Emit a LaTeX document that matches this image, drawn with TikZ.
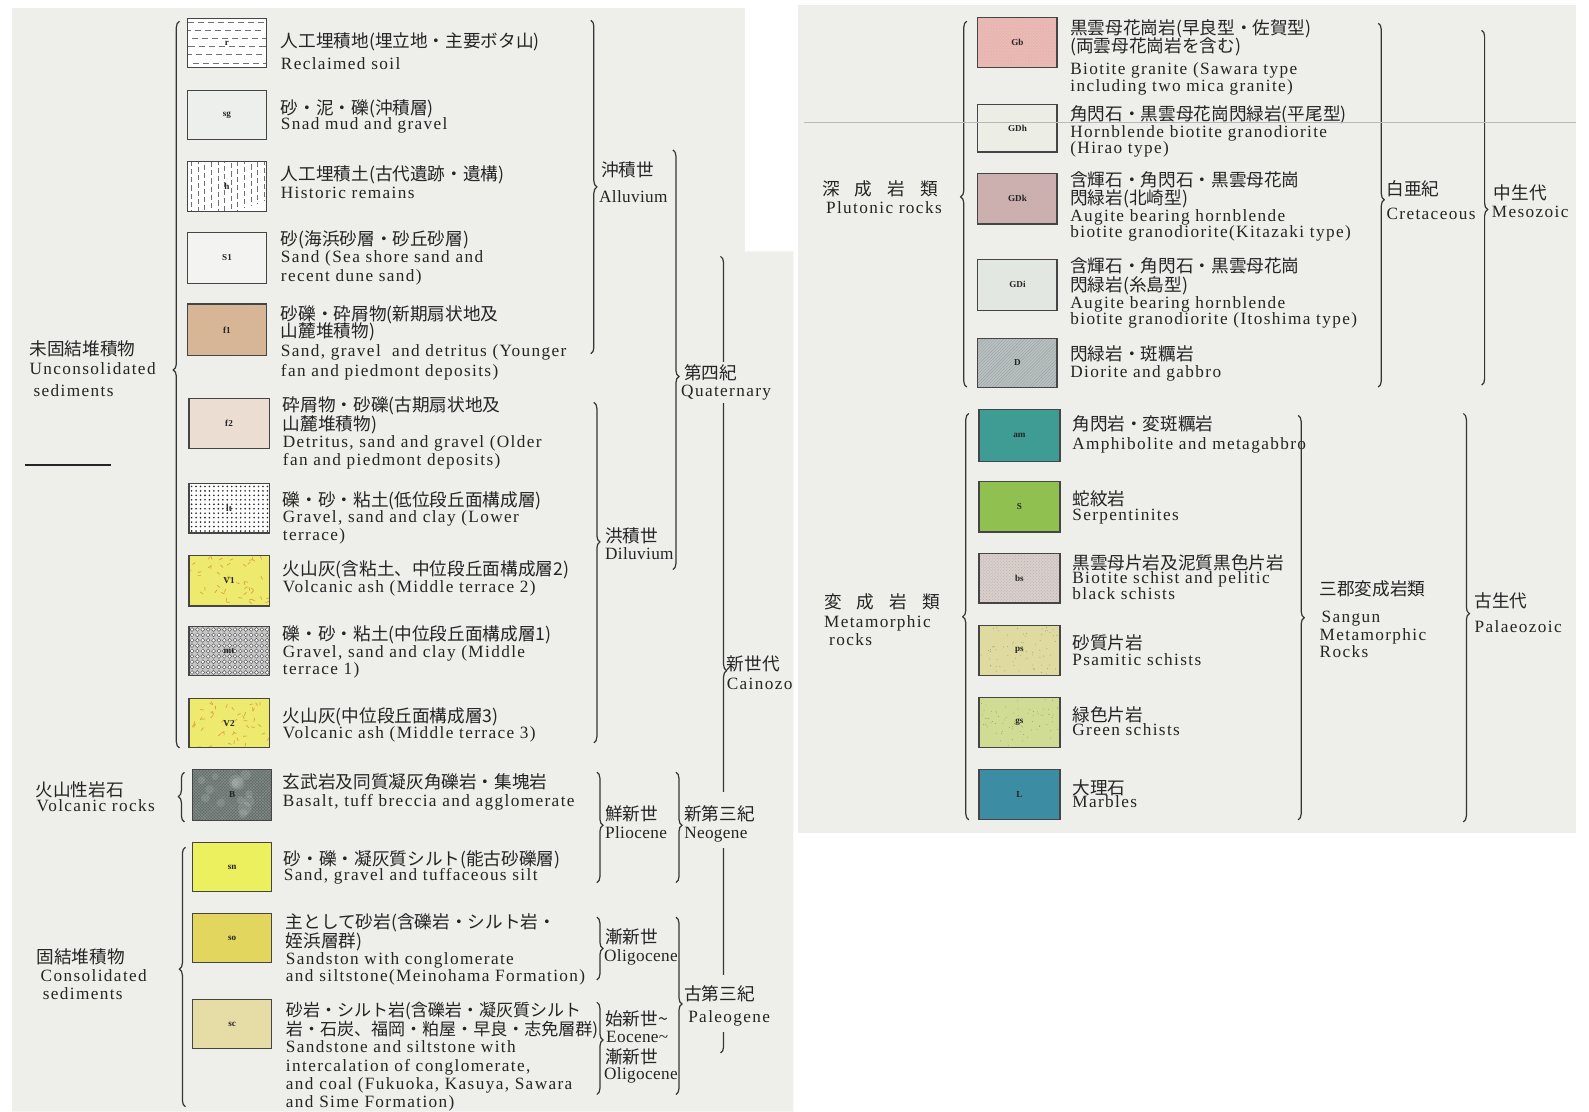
\documentclass[tikz,border=0pt]{standalone}
\usepackage{fontspec}
\setmainfont{Liberation Serif}
\newfontfamily\jpf{Noto Sans CJK JP}
\newfontfamily\enf[LetterSpace=8.0]{Liberation Serif}
\newfontfamily\enn[LetterSpace=2.0]{Liberation Serif}
\usetikzlibrary{decorations.pathreplacing,patterns,calc}
\definecolor{paper}{HTML}{EEEEEB}
\definecolor{ink}{HTML}{242424}
\definecolor{braceink}{HTML}{353535}
\definecolor{cSg}{HTML}{EDEFEC}
\definecolor{cSone}{HTML}{F3F3F1}
\definecolor{cFone}{HTML}{D6B89A}
\definecolor{cFtwo}{HTML}{EBDDD2}
\definecolor{cV}{HTML}{EEEA6E}
\definecolor{cVd}{HTML}{D9A347}
\definecolor{cB}{HTML}{5C6F68}
\definecolor{cSn}{HTML}{ECEF5E}
\definecolor{cSo}{HTML}{E2D65E}
\definecolor{cSc}{HTML}{E6DCA6}
\definecolor{cGb}{HTML}{E8B6B2}
\definecolor{cGDh}{HTML}{ECEEE6}
\definecolor{cGDk}{HTML}{CDAFB2}
\definecolor{cGDi}{HTML}{E3E7E2}
\definecolor{cD}{HTML}{B8C2C2}
\definecolor{cAm}{HTML}{3E9C94}
\definecolor{cS}{HTML}{8FC050}
\definecolor{cBs}{HTML}{DACFCB}
\definecolor{cPs}{HTML}{DEDAA0}
\definecolor{cGs}{HTML}{D0DC94}
\definecolor{cL}{HTML}{3C8CA4}
\tikzset{
  en/.style={font=\enf\fontsize{17}{19}\selectfont, text=ink, anchor=west, inner sep=0pt, text height=12pt, text depth=3.5pt},
  ent/.style={en, font=\enn\fontsize{17}{19}\selectfont},
  jp/.style={font=\jpf\fontsize{17.4}{19}\selectfont, text=ink, anchor=west, inner sep=0pt, text height=13pt, text depth=2pt},
  jpt/.style={jp, font=\jpf\fontsize{16.8}{19}\selectfont},
  swbox/.style={draw=ink!85, line width=1.1pt, inner sep=0pt, font=\fontsize{9}{9}\selectfont\bfseries, text=ink},
  brc/.style={decorate, decoration={brace, amplitude=6pt, aspect=#1}, draw=braceink, line width=1.2pt},
  texr/.style={path picture={
    \foreach \j in {0,...,5}{
      \draw[ink!65, line width=0.6pt, dash pattern=on 6pt off 4pt]
        ($(path picture bounding box.north west)+({-\j*3},{4+\j*8})$) -- +(95,0);}}},
  texh/.style={path picture={
    \foreach \i in {0,...,11}{
      \draw[ink!65, line width=0.6pt, dash pattern=on 5pt off 3pt]
        ($(path picture bounding box.north west)+({4+\i*6.5},{-\i*2.3})$) -- +(0,65);}}},
  texlt/.style={path picture={
    \foreach \i in {0,...,17}{\foreach \j in {0,...,10}{
      \fill[ink] ($(path picture bounding box.north west)+({2.6+\i*4.4},{3+\j*4.4})$) circle (0.9pt);}}}},
  texmt/.style={path picture={
    \foreach \i in {0,...,14}{\foreach \j in {0,...,8}{
      \filldraw[fill=white, draw=ink!75, line width=0.5pt]
        ($(path picture bounding box.north west)+({3+\i*5.3},{3.2+\j*5.3})$) circle (1.9pt);}}}},
  texv/.style={path picture={
    \pgfmathsetseed{#1}
    \foreach \k in {1,...,45}{
      \pgfmathsetmacro\px{2+76*rnd}\pgfmathsetmacro\py{2+46*rnd}\pgfmathsetmacro\pa{360*rnd}
      \draw[cVd, line width=0.7pt]
        ($(path picture bounding box.north west)+(\px,\py)$) -- +(\pa:3.5);}}},
  texb/.style={path picture={
    \pgfmathsetseed{11}
    \foreach \k in {1,...,14}{
      \pgfmathsetmacro\px{4+70*rnd}\pgfmathsetmacro\py{4+42*rnd}\pgfmathsetmacro\pr{3+4*rnd}
      \fill[white, opacity=0.12]
        ($(path picture bounding box.north west)+(\px,\py)$) circle (\pr pt);}}},
  texspk/.style={path picture={
    \pgfmathsetseed{#1}
    \foreach \k in {1,...,70}{
      \pgfmathsetmacro\px{2+76*rnd}\pgfmathsetmacro\py{2+46*rnd}
      \fill[olive!70!black, opacity=0.45]
        ($(path picture bounding box.north west)+(\px,\py)$) circle (0.5pt);}}},
}
\newcommand\swatch[7]{\node[swbox,#6,minimum width=#4pt,minimum height=#5pt] (#1) at (#2,#3) {#7};}
\begin{document}
\begin{tikzpicture}[x=1pt,y=-1pt]
\useasboundingbox (0,0) rectangle (1568,1097);
\fill[white] (0,0) rectangle (1568,1097);
\fill[paper] (12,8) -- (735,8) -- (735,248) -- (783,248) -- (783,1097) -- (12,1097) -- cycle;
\fill[paper] (787,5) rectangle (1555,822);
\draw[ink, line width=1.8pt] (25,459) -- (110,459);

% ---------- left column swatches ----------
\swatch{sw-r}{224}{42.5}{78}{49}{fill=white,texr}{r}
\swatch{sw-sg}{224}{113.5}{78}{49}{fill=cSg}{sg}
\swatch{sw-h}{224}{184}{78}{50}{fill=white,texh}{h}
\swatch{sw-S1}{224}{254.5}{78}{51}{fill=cSone}{S1}
\swatch{sw-f1}{224}{325.5}{78}{51}{preaction={fill=cFone},pattern=north east lines,pattern color=brown!60}{f1}
\swatch{sw-f2}{226}{418}{79}{50}{fill=cFtwo}{f2}
\swatch{sw-lt}{226}{501.5}{79}{49}{fill=white,texlt}{lt}
\swatch{sw-V1}{226}{573}{79}{50}{fill=cV,texv=3}{V1}
\swatch{sw-mt}{226}{642.5}{79}{49}{fill=gray!45,texmt}{mt}
\swatch{sw-V2}{226}{713.5}{79}{49}{fill=cV,texv=5}{V2}
\swatch{sw-B}{229}{784.5}{78}{51}{preaction={fill=cB},pattern=crosshatch,pattern color=black!45,texb}{B}
\swatch{sw-sn}{229}{855.5}{78}{49}{fill=cSn}{sn}
\swatch{sw-so}{229}{925.5}{78}{49}{fill=cSo}{so}
\swatch{sw-sc}{229}{1010.5}{78}{49}{fill=cSc}{sc}

% ---------- left column texts ----------
\node[jp] (t-r1) at (277,41) {人工埋積地(埋立地・主要ボタ山)};
\node[en] (t-r2) at (277,64) {Reclaimed soil};
\node[jp] (t-sg1) at (277,107) {砂・泥・礫(沖積層)};
\node[en] (t-sg2) at (277,124) {Snad mud and gravel};
\node[jp] (t-h1) at (277,173) {人工埋積土(古代遺跡・遺構)};
\node[en] (t-h2) at (277,192) {Historic remains};
\node[jp] (t-s1a) at (277,237) {砂(海浜砂層・砂丘砂層)};
\node[en] (t-s1b) at (277,255) {Sand (Sea shore sand and};
\node[en] (t-s1c) at (277,274) {recent dune sand)};
\node[jp] (t-f1a) at (277,311) {砂礫・砕屑物(新期扇状地及};
\node[jp] (t-f1b) at (277,328) {山麓堆積物)};
\node[en] (t-f1c) at (277,348) {Sand, gravel \ and detritus (Younger};
\node[en] (t-f1d) at (277,367) {fan and piedmont deposits)};
\node[jp] (t-f2a) at (279,401) {砕屑物・砂礫(古期扇状地及};
\node[jp] (t-f2b) at (279,419) {山麓堆積物)};
\node[en] (t-f2c) at (279,437) {Detritus, sand and gravel (Older};
\node[en] (t-f2d) at (279,455) {fan and piedmont deposits)};
\node[jp] (t-lt1) at (279,494) {礫・砂・粘土(低位段丘面構成層)};
\node[en] (t-lt2) at (279,511) {Gravel, sand and clay (Lower};
\node[en] (t-lt3) at (279,529) {terrace)};
\node[jp] (t-v1a) at (279,562) {火山灰(含粘土、中位段丘面構成層2)};
\node[en] (t-v1b) at (279,580) {Volcanic ash (Middle terrace 2)};
\node[jp] (t-mt1) at (279,627) {礫・砂・粘土(中位段丘面構成層1)};
\node[en] (t-mt2) at (279,645) {Gravel, sand and clay (Middle};
\node[en] (t-mt3) at (279,661) {terrace 1)};
\node[jp] (t-v2a) at (279,707) {火山灰(中位段丘面構成層3)};
\node[en] (t-v2b) at (279,724) {Volcanic ash (Middle terrace 3)};
\node[jp] (t-b1) at (279,773) {玄武岩及同質凝灰角礫岩・集塊岩};
\node[en] (t-b2) at (279,792) {Basalt, tuff breccia and agglomerate};
\node[jp] (t-sn1) at (280,849) {砂・礫・凝灰質シルト(能古砂礫層)};
\node[en] (t-sn2) at (280,865) {Sand, gravel and tuffaceous silt};
\node[jp] (t-so1) at (282,911) {主として砂岩(含礫岩・シルト岩・};
\node[jp] (t-so2) at (282,929) {姪浜層群)};
\node[en] (t-so3) at (282,947) {Sandston with conglomerate};
\node[en] (t-so4) at (282,964) {and siltstone(Meinohama Formation)};
\node[jpt] (t-sc1) at (282,998) {砂岩・シルト岩(含礫岩・凝灰質シルト};
\node[jpt] (t-sc2) at (282,1016) {岩・石炭、福岡・粕屋・早良・志免層群)};
\node[en] (t-sc3) at (282,1034) {Sandstone and siltstone with};
\node[en] (t-sc4) at (282,1053) {intercalation of conglomerate,};
\node[en] (t-sc5) at (282,1071) {and coal (Fukuoka, Kasuya, Sawara};
\node[en] (t-sc6) at (282,1089) {and Sime Formation)};

% ---------- left group labels ----------
\node[jp] (g-unc1) at (29,345) {未固結堆積物};
\node[en] (g-unc2) at (29,365) {Unconsolidated};
\node[en] (g-unc3) at (33,387) {sediments};
\node[jp] (g-vol1) at (35,780) {火山性岩石};
\node[en] (g-vol2) at (36,797) {Volcanic rocks};
\node[jp] (g-con1) at (36,945) {固結堆積物};
\node[en] (g-con2) at (40,964) {Consolidated};
\node[en] (g-con3) at (42,982) {sediments};

% ---------- left braces ----------
\coordinate (b-unc-t) at (177,21);  \coordinate (b-unc-b) at (177,738);
\coordinate (b-vol-t) at (182,762); \coordinate (b-vol-b) at (182,811);
\coordinate (b-con-t) at (183,836); \coordinate (b-con-b) at (183,1092);
\draw[brc=0.52] (b-unc-b) -- (b-unc-t);
\draw[brc=0.51] (b-vol-b) -- (b-vol-t);
\draw[brc=0.53] (b-con-b) -- (b-con-t);

% ---------- age braces (left sheet) ----------
\coordinate (b-all-t) at (583,20);  \coordinate (b-all-b) at (583,349);
\coordinate (b-dil-t) at (586,397); \coordinate (b-dil-b) at (586,733);
\coordinate (b-qua-t) at (664,148); \coordinate (b-qua-b) at (664,562);
\coordinate (b-cai-t) at (711,253); \coordinate (b-cai-b) at (711,1039);
\coordinate (b-pli-t) at (589,762); \coordinate (b-pli-b) at (589,871);
\coordinate (b-neo-t) at (667,762); \coordinate (b-neo-b) at (667,871);
\coordinate (b-oli-t) at (589,905); \coordinate (b-oli-b) at (589,967);
\coordinate (b-eoc-t) at (589,989); \coordinate (b-eoc-b) at (589,1080);
\coordinate (b-pal-t) at (667,905); \coordinate (b-pal-b) at (667,1080);
\draw[brc=0.50] (b-all-t) -- (b-all-b);
\draw[brc=0.41] (b-dil-t) -- (b-dil-b);
\draw[brc=0.54] (b-qua-t) -- (b-qua-b);
\draw[brc=0.52] (b-cai-t) -- (b-cai-b);
\draw[brc=0.48] (b-pli-t) -- (b-pli-b);
\draw[brc=0.48] (b-neo-t) -- (b-neo-b);
\draw[brc=0.50] (b-oli-t) -- (b-oli-b);
\draw[brc=0.41] (b-eoc-t) -- (b-eoc-b);
\draw[brc=0.49] (b-pal-t) -- (b-pal-b);
% gaps in the Cainozoic brace behind the Quaternary / Neogene / Paleogene labels
\fill[paper] (704,357) rectangle (730,398);
\fill[paper] (704,782) rectangle (730,837);
\fill[paper] (704,962) rectangle (730,1018);

\node[jp] (a-all1) at (593,169) {沖積世};
\node[ent] (a-all2) at (591,196) {Alluvium};
\node[jp] (a-dil1) at (597,530) {洪積世};
\node[ent] (a-dil2) at (597,548) {Diluvium};
\node[jp] (a-qua1) at (675,369) {第四紀};
\node[en] (a-qua2) at (672,387) {Quaternary};
\node[jp] (a-cai1) at (717,656) {新世代};
\node[en] (a-cai2) at (717,676) {Cainozo};
\node[jp] (a-pli1) at (597,804) {鮮新世};
\node[ent] (a-pli2) at (597,823) {Pliocene};
\node[jp] (a-neo1) at (675,804) {新第三紀};
\node[ent] (a-neo2) at (675,823) {Neogene};
\node[jp] (a-oli1) at (597,926) {漸新世};
\node[ent] (a-oli2) at (596,945) {Oligocene};
\node[jp] (a-eoc1) at (597,1006) {始新世\textasciitilde};
\node[ent] (a-eoc2) at (598,1024) {Eocene\textasciitilde};
\node[jp] (a-eoc3) at (597,1044) {漸新世};
\node[ent] (a-eoc4) at (596,1061) {Oligocene};
\node[jp] (a-pal1) at (675,982) {古第三紀};
\node[en] (a-pal2) at (679,1005) {Paleogene};

% ---------- right sheet swatches ----------
\swatch{sw-Gb}{1004}{42}{78}{50}{preaction={fill=cGb},pattern=crosshatch dots,pattern color=red!30!brown!35}{Gb}
\swatch{sw-GDh}{1004}{126.5}{78}{47}{fill=cGDh}{GDh}
\swatch{sw-GDk}{1004}{196}{78}{50}{preaction={fill=cGDk},pattern=crosshatch dots,pattern color=brown!50!gray!60}{GDk}
\swatch{sw-GDi}{1004}{281}{78}{50}{fill=cGDi}{GDi}
\swatch{sw-D}{1004}{358}{78}{48}{preaction={fill=cD},pattern=north east lines,pattern color=gray!75}{D}
\swatch{sw-am}{1006}{429.5}{80}{51}{fill=cAm}{am}
\swatch{sw-S}{1006}{500}{80}{50}{fill=cS}{S}
\swatch{sw-bs}{1006}{570.5}{80}{49}{preaction={fill=cBs},pattern=crosshatch dots,pattern color=gray!60}{bs}
\swatch{sw-ps}{1006}{642}{80}{50}{fill=cPs,texspk=4}{ps}
\swatch{sw-gs}{1006}{713}{80}{50}{fill=cGs,texspk=9}{gs}
\swatch{sw-L}{1006}{784}{80}{50}{fill=cL}{L}

% ---------- right sheet texts ----------
\node[jp] (t-gb1) at (1056,29) {黒雲母花崗岩(早良型・佐賀型)};
\node[jp] (t-gb2) at (1056,46) {(両雲母花崗岩を含む)};
\node[en] (t-gb3) at (1056,69) {Biotite granite (Sawara type};
\node[en] (t-gb4) at (1056,86) {including two mica granite)};
\node[jp] (t-gdh1) at (1056,113) {角閃石・黒雲母花崗閃緑岩(平尾型)};
\node[en] (t-gdh2) at (1056,131) {Hornblende biotite granodiorite};
\node[en] (t-gdh3) at (1056,147) {(Hirao type)};
\node[jp] (t-gdk1) at (1056,179) {含輝石・角閃石・黒雲母花崗};
\node[jp] (t-gdk2) at (1056,196) {閃緑岩(北崎型)};
\node[en] (t-gdk3) at (1056,214) {Augite bearing hornblende};
\node[en] (t-gdk4) at (1056,230) {biotite granodiorite(Kitazaki type)};
\node[jp] (t-gdi1) at (1056,263) {含輝石・角閃石・黒雲母花崗};
\node[jp] (t-gdi2) at (1056,282) {閃緑岩(糸島型)};
\node[en] (t-gdi3) at (1056,300) {Augite bearing hornblende};
\node[en] (t-gdi4) at (1056,316) {biotite granodiorite (Itoshima type)};
\node[jp] (t-d1) at (1056,350) {閃緑岩・斑糲岩};
\node[en] (t-d2) at (1056,368) {Diorite and gabbro};
\node[jp] (t-am1) at (1058,419) {角閃岩・変斑糲岩};
\node[en] (t-am2) at (1058,439) {Amphibolite and metagabbro};
\node[jp] (t-s1) at (1058,493) {蛇紋岩};
\node[en] (t-s2) at (1058,509) {Serpentinites};
\node[jp] (t-bs1) at (1058,556) {黒雲母片岩及泥質黒色片岩};
\node[en] (t-bs2) at (1058,572) {Biotite schist and pelitic};
\node[en] (t-bs3) at (1058,587) {black schists};
\node[jp] (t-ps1) at (1058,635) {砂質片岩};
\node[en] (t-ps2) at (1058,652) {Psamitic schists};
\node[jp] (t-gs1) at (1058,706) {緑色片岩};
\node[en] (t-gs2) at (1058,722) {Green schists};
\node[jp] (t-l1) at (1058,778) {大理石};
\node[en] (t-l2) at (1058,793) {Marbles};

% ---------- right sheet group labels ----------
\node[jp] (g-plu1) at (811,187) {深\hspace{15pt}成\hspace{15pt}岩\hspace{15pt}類};
\node[en] (g-plu2) at (815,206) {Plutonic rocks};
\node[jp] (g-met1) at (813,595) {変\hspace{15pt}成\hspace{15pt}岩\hspace{15pt}類};
\node[en] (g-met2) at (813,615) {Metamorphic};
\node[en] (g-met3) at (818,633) {rocks};
\node[jp] (a-cre1) at (1368,187) {白亜紀};
\node[en] (a-cre2) at (1368,212) {Cretaceous};
\node[jp] (a-mes1) at (1474,191) {中生代};
\node[en] (a-mes2) at (1472,210) {Mesozoic};
\node[jp] (a-san1) at (1302,582) {三郡変成岩類};
\node[en] (a-san2) at (1304,610) {Sangun};
\node[en] (a-san3) at (1302,628) {Metamorphic};
\node[en] (a-san4) at (1302,645) {Rocks};
\node[jp] (a-pz1) at (1455,594) {古生代};
\node[en] (a-pz2) at (1455,620) {Palaeozoic};

% ---------- right sheet braces ----------
\coordinate (b-plu-t) at (954,21);   \coordinate (b-plu-b) at (954,382);
\coordinate (b-met-t) at (956,408);  \coordinate (b-met-b) at (956,809);
\coordinate (b-cre-t) at (1360,23);  \coordinate (b-cre-b) at (1360,382);
\coordinate (b-mes-t) at (1462,30);  \coordinate (b-mes-b) at (1462,380);
\coordinate (b-san-t) at (1281,410); \coordinate (b-san-b) at (1281,809);
\coordinate (b-pz-t) at (1444,408);  \coordinate (b-pz-b) at (1444,811);
\draw[brc=0.52] (b-plu-b) -- (b-plu-t);
\draw[brc=0.50] (b-met-b) -- (b-met-t);
\draw[brc=0.485] (b-cre-t) -- (b-cre-b);
\draw[brc=0.505] (b-mes-t) -- (b-mes-b);
\draw[brc=0.50] (b-san-t) -- (b-san-b);
\draw[brc=0.49] (b-pz-t) -- (b-pz-b);

% fold line across the right sheet
\draw[gray!55, line width=1pt] (793,121) -- (1555,121);
\end{tikzpicture}
\end{document}
